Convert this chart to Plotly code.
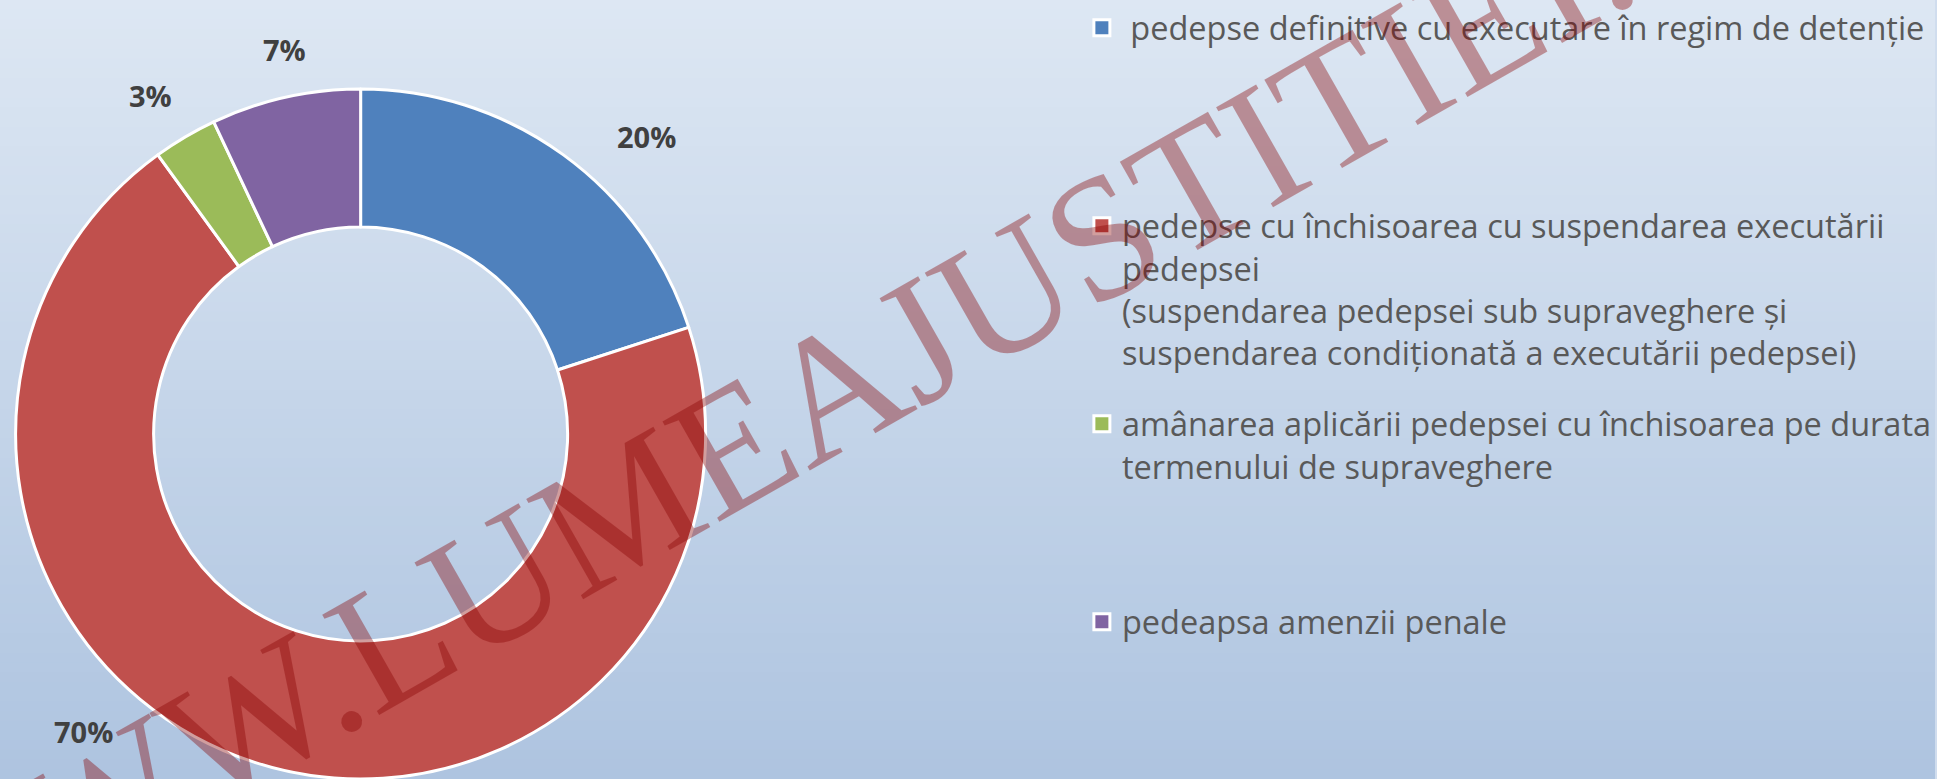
import plotly.graph_objects as go

# ---- data ----
categories = [
    " pedepse definitive cu executare în regim de detenție",
    "pedepse cu închisoarea cu suspendarea executării<br>pedepsei<br>(suspendarea pedepsei sub supraveghere și<br>suspendarea condiționată a executării pedepsei)",
    "amânarea aplicării pedepsei cu închisoarea pe durata<br>termenului de supraveghere",
    "pedeapsa amenzii penale",
]
values = [20, 70, 3, 7]
colors = ["#4F81BD", "#C0504D", "#9BBB59", "#8064A2"]
watermark = "WWW.LUMEAJUSTITIEI.RO"

# ---- layout constants ----
W, H = 1937, 779
LEG_FS = 32.5
pad_lines = [3, 0, 2, 0]  # blank lines to spread legend entries like the original
legend_labels = [c + "<br>\u00a0" * p for c, p in zip(categories, pad_lines)]

fig = go.Figure()

fig.add_trace(go.Pie(
    labels=categories,
    values=values,
    sort=False,
    direction="clockwise",
    rotation=0,
    hole=0.6,
    marker=dict(colors=colors, line=dict(color="white", width=3)),
    textinfo="none",
    showlegend=False,
    hovertemplate="%{label}: %{percent}<extra></extra>",
    domain=dict(x=[15 / W, 707 / W], y=[0, 1 - 89 / H]),
))

# legend entries (one per category, so each sits in its own legend group)
for i, (lab, col) in enumerate(zip(legend_labels, colors)):
    fig.add_trace(go.Scatter(
        x=[None], y=[None], mode="markers", name=lab, legendgroup=str(i),
        marker=dict(symbol="square", size=16, color=col,
                    line=dict(color="white", width=3)),
        hoverinfo="skip",
    ))

# background vertical gradient
top = (221, 231, 243)
bot = (174, 196, 224)
n = 80
shapes = []
for i in range(n):
    t = i / (n - 1)
    c = tuple(round(top[k] + (bot[k] - top[k]) * t) for k in range(3))
    shapes.append(dict(
        type="rect", xref="paper", yref="paper",
        x0=0, x1=1, y0=1 - (i + 1) / n - 0.002, y1=1 - i / n,
        fillcolor="rgb(%d,%d,%d)" % c, line=dict(width=0), layer="below",
    ))

# percentage labels placed outside the ring (positions in pixels of the page)
label_pos = [(647, 136), (84, 731), (151, 96), (285, 49)]
total = sum(values)
annotations = []
for v, (px, py) in zip(values, label_pos):
    annotations.append(dict(
        text="<b>%d%%</b>" % round(100 * v / total),
        x=px / W, y=1 - py / H, xref="paper", yref="paper",
        showarrow=False, xanchor="center", yanchor="middle",
        font=dict(family="Open Sans", size=29, color="#404040"),
    ))

# watermark
annotations.append(dict(
    text=watermark, x=859 / W, y=1 - 374 / H, xref="paper", yref="paper",
    showarrow=False, xanchor="center", yanchor="middle", textangle=-29.6,
    font=dict(family="Liberation Serif", size=176, color="rgba(134,0,0,0.38)"),
))

fig.update_layout(
    width=W, height=H,
    margin=dict(l=0, r=0, t=0, b=0),
    paper_bgcolor="#d0ddee",
    plot_bgcolor="rgba(0,0,0,0)",
    xaxis=dict(visible=False),
    yaxis=dict(visible=False),
    shapes=shapes,
    annotations=annotations,
    showlegend=True,
    legend=dict(
        x=1083 / W, y=1, xanchor="left", yanchor="top",
        valign="top", bgcolor="rgba(0,0,0,0)", borderwidth=0,
        font=dict(family="Open Sans", size=LEG_FS, color="#595959"),
        traceorder="grouped", tracegroupgap=26,
    ),
)

fig.write_html(
    "out.html",
    config={"displayModeBar": False},
    post_script="document.body.style.margin='0px';document.body.style.overflow='hidden';",
)
